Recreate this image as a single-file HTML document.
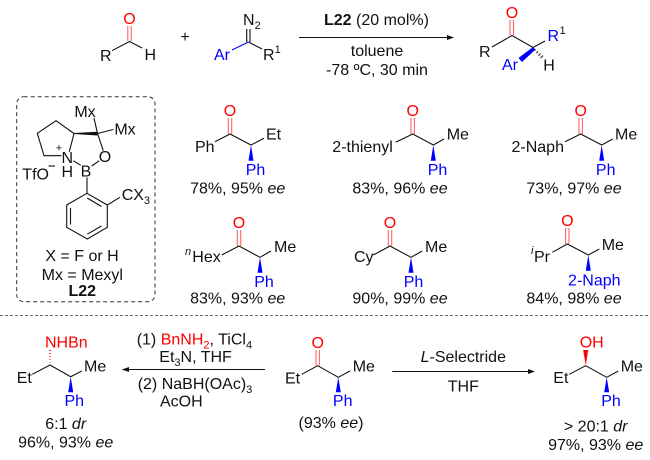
<!DOCTYPE html>
<html><head><meta charset="utf-8">
<style>
html,body{margin:0;padding:0;background:#fff;width:650px;height:460px;overflow:hidden}
svg{display:block}
text{font-family:"Liberation Sans",sans-serif;font-size:16px;fill:#111}
.r{fill:#f00}.b{fill:#00f}.m{text-anchor:middle}
.s{font-size:11px}
.l{stroke:#111;stroke-width:1.1;fill:none}
.db{stroke:#f66;stroke-width:1.1;fill:none}
.w{fill:#00f}
</style></head><body>
<svg width="650" height="460" viewBox="0 0 650 460" xmlns="http://www.w3.org/2000/svg">
<!-- top reaction -->
<text x="129.5" y="24" class="m r">O</text>
<path class="db" d="M127.8 26V41M131.2 26V41"/>
<path class="l" d="M112 50.7L129.5 41.5L142 48"/>
<text x="100" y="61">R</text>
<text x="144.5" y="60">H</text>
<text x="185" y="42" class="m">+</text>
<text x="243" y="25">N<tspan class="s" dy="4">2</tspan></text>
<path class="l" d="M246.7 29V42M250 29V42M248.4 42L262 49"/>
<path d="M232 50L248.4 42" stroke="#00f" stroke-width="1.1" fill="none"/>
<text x="214" y="60" class="b">Ar</text>
<text x="263" y="60">R<tspan class="s" dy="-7">1</tspan></text>
<text x="324" y="25"><tspan font-weight="bold">L22</tspan> (20 mol%)</text>
<path class="l" d="M299 37.5H450"/>
<path d="M454 37.5L447 35V40Z" fill="#111"/>
<text x="377" y="56" class="m">toluene</text>
<text x="377" y="75" class="m">-78 ºC, 30 min</text>
<text x="512" y="18" class="m r">O</text>
<path class="db" d="M510 20V35M513.5 20V35"/>
<path class="l" d="M492 47L512 35.5L533 47.5L545 41"/>
<text x="479" y="57">R</text>
<text x="547.5" y="41" class="b">R</text>
<text x="559.5" y="34" class="s">1</text>
<path d="M533 47L535.5 49.5L522 62L518.5 58Z" fill="#00f"/>
<path d="M535.5 49.5l-1 1M538 51.5l-1.6 1.6M540.5 53.5l-2 2.2M543 55.5l-2.4 2.6" stroke="#111" stroke-width="1"/>
<text x="510" y="70" class="m b">Ar</text>
<text x="549" y="70.5" class="m">H</text>
<!-- ligand box -->
<rect x="16.7" y="96.7" width="138.3" height="205" rx="7" ry="7" fill="none" stroke="#333" stroke-width="1" stroke-dasharray="4 3"/>
<text x="85" y="117" class="m">Mx</text>
<text x="125" y="134.5" class="m">Mx</text>
<path class="l" d="M94 118L97.5 133.5L113.3 129.5M97.5 133.5L103.3 150.7M74 133.5L69.3 151.7M74 133.5L56 120.7L37.3 133.3L44 155.7H61.5"/>
<path d="M74 133L97.5 131.7V135.5L74 134Z" fill="#111"/>
<text x="67.3" y="163" class="m">N</text>
<text x="59" y="151.5" class="m s">+</text>
<text x="105" y="162" class="m">O</text>
<text x="86" y="176.5" class="m">B</text>
<text x="67.3" y="177" class="m">H</text>
<path class="l" d="M99.3 160.7L91.7 166M73.3 160.7L80.7 165.3M87 177.5V193.3L107.3 205V227.3L87.3 239L66.7 227.3V205L87 193.3M107.3 205L120 197.3M87.2 198L101.5 206.5M87.3 234.2L101.5 226M70.5 208V224.5"/>
<text x="22.3" y="179.5">TfO</text>
<path class="l" d="M48.5 166H55"/>
<text x="121.7" y="200">CX<tspan class="s" dy="4">3</tspan></text>
<text x="82" y="261" class="m">X = F or H</text>
<text x="82.3" y="280" class="m">Mx = Mexyl</text>
<text x="82.3" y="296" class="m" font-weight="bold">L22</text>
<!-- P1 -->
<text x="230" y="116" class="m r">O</text>
<path class="db" d="M228.3 118V134M231.7 118V134"/>
<path class="l" d="M215 141.7L230 134L251 145L264 138.3"/>
<text x="195" y="152">Ph</text>
<text x="266" y="139.5">Et</text>
<path class="w" d="M251 145L253.5 160.7H248.5Z"/>
<text x="255.5" y="175" class="m b">Ph</text>
<text x="237.7" y="193.5" class="m">78%, 95% <tspan font-style="italic">ee</tspan></text>
<!-- P2 -->
<text x="412.7" y="116" class="m r">O</text>
<path class="db" d="M411 118V134M414.4 118V134"/>
<path class="l" d="M395.7 142.3L412.7 134L433.3 145L444 139"/>
<text x="332.3" y="152">2-thienyl</text>
<text x="446.7" y="139.5">Me</text>
<path class="w" d="M433.3 145L435.8 160.7H430.8Z"/>
<text x="437.5" y="175" class="m b">Ph</text>
<text x="400" y="193.5" class="m">83%, 96% <tspan font-style="italic">ee</tspan></text>
<!-- P3 -->
<text x="580.7" y="116" class="m r">O</text>
<path class="db" d="M579 118V134M582.4 118V134"/>
<path class="l" d="M565 141.7L580.7 134L601.7 145L612.7 139"/>
<text x="511.5" y="152">2-Naph</text>
<text x="615" y="139.5">Me</text>
<path class="w" d="M601.7 145L604.2 160.7H599.2Z"/>
<text x="605.7" y="175" class="m b">Ph</text>
<text x="574" y="193.5" class="m">73%, 97% <tspan font-style="italic">ee</tspan></text>
<!-- P4 -->
<text x="239" y="228" class="m r">O</text>
<path class="db" d="M237.3 230V246M240.7 230V246"/>
<path class="l" d="M221.7 255L239 246L260 257.3L271 251"/>
<text x="185" y="255" class="s" font-style="italic">n</text>
<text x="192.3" y="262">Hex</text>
<text x="274" y="252">Me</text>
<path class="w" d="M260 257.3L262.5 272.7H257.5Z"/>
<text x="264" y="287" class="m b">Ph</text>
<text x="237.7" y="303.5" class="m">83%, 93% <tspan font-style="italic">ee</tspan></text>
<!-- P5 -->
<text x="390" y="228" class="m r">O</text>
<path class="db" d="M388.3 230V246M391.7 230V246"/>
<path class="l" d="M373.3 255L390 246L411 257.3L422.3 251"/>
<text x="354" y="262">Cy</text>
<text x="425" y="252">Me</text>
<path class="w" d="M411 257.3L413.5 272.7H408.5Z"/>
<text x="413.5" y="287" class="m b">Ph</text>
<text x="400" y="303.5" class="m">90%, 99% <tspan font-style="italic">ee</tspan></text>
<!-- P6 -->
<text x="567.3" y="226" class="m r">O</text>
<path class="db" d="M565.6 228V244M569 228V244"/>
<path class="l" d="M552.3 252.3L567.3 244L588.3 255L599.3 249"/>
<text x="531" y="254" class="s" font-style="italic">i</text>
<text x="534" y="262">Pr</text>
<text x="601.7" y="250">Me</text>
<path class="w" d="M588.3 255L590.8 270.7H585.8Z"/>
<text x="594.3" y="285.5" class="m b">2-Naph</text>
<text x="574" y="303.5" class="m">84%, 98% <tspan font-style="italic">ee</tspan></text>
<!-- divider -->
<path d="M0 315.5H650" stroke="#666" stroke-width="1" stroke-dasharray="3 2"/>
<!-- bottom left -->
<text x="45" y="347.5" class="r">NHBn</text>
<path d="M48.8 350.5h2.4M49 353.5h2M49.2 356.5h1.6M49.4 359.5h1.2M49.6 362.5h.8" stroke="#f33" stroke-width="1"/>
<path class="l" d="M32.3 374.3L50 365L70.7 376.7L81.7 371"/>
<text x="16.7" y="383">Et</text>
<text x="84" y="371.5">Me</text>
<path class="w" d="M70.7 376.7L73.2 392.3H68.2Z"/>
<text x="74.3" y="406" class="m b">Ph</text>
<text x="65.7" y="429" class="m">6:1 <tspan font-style="italic">dr</tspan></text>
<text x="65.7" y="447.5" class="m">96%, 93% <tspan font-style="italic">ee</tspan></text>
<path class="l" d="M125 369.5H265"/>
<path d="M121.7 369.5L129 367V372Z" fill="#111"/>
<text x="136.7" y="344.5">(1) <tspan class="r">BnNH<tspan class="s r" dy="4">2</tspan></tspan><tspan dy="-4">, TiCl</tspan><tspan class="s" dy="4">4</tspan></text>
<text x="159.3" y="362">Et<tspan class="s" dy="4">3</tspan><tspan dy="-4">N, THF</tspan></text>
<text x="137.7" y="389">(2) NaBH(OAc)<tspan class="s" dy="4">3</tspan></text>
<text x="160" y="406.5">AcOH</text>
<!-- center -->
<text x="317.7" y="348" class="m r">O</text>
<path class="db" d="M316 350V365.5M319.4 350V365.5"/>
<path class="l" d="M301.7 374.3L317.7 365.7L338.3 377.3L350 371"/>
<text x="285" y="383.5">Et</text>
<text x="352.7" y="371.5">Me</text>
<path class="w" d="M338.3 377.3L340.8 392.3H335.8Z"/>
<text x="342.7" y="406" class="m b">Ph</text>
<text x="331" y="428" class="m">(93% <tspan font-style="italic">ee</tspan>)</text>
<path class="l" d="M392.3 371.5H531"/>
<path d="M535 371.5L528 369V374Z" fill="#111"/>
<text x="463.3" y="362" class="m"><tspan font-style="italic">L</tspan>-Selectride</text>
<text x="463.3" y="391.5" class="m">THF</text>
<!-- right -->
<text x="591.7" y="347.5" class="m r">OH</text>
<path d="M585.7 365.5L583.2 350H588.2Z" fill="#f00"/>
<path class="l" d="M569.3 374.3L585.7 365.7L606.7 377.3L618.3 371"/>
<text x="553.3" y="383">Et</text>
<text x="620.7" y="371.5">Me</text>
<path class="w" d="M606.7 377.3L609.2 392.3H604.2Z"/>
<text x="611" y="406" class="m b">Ph</text>
<text x="595.7" y="431.5" class="m">&gt; 20:1 <tspan font-style="italic">dr</tspan></text>
<text x="595.7" y="450" class="m">97%, 93% <tspan font-style="italic">ee</tspan></text>
</svg>
</body></html>
